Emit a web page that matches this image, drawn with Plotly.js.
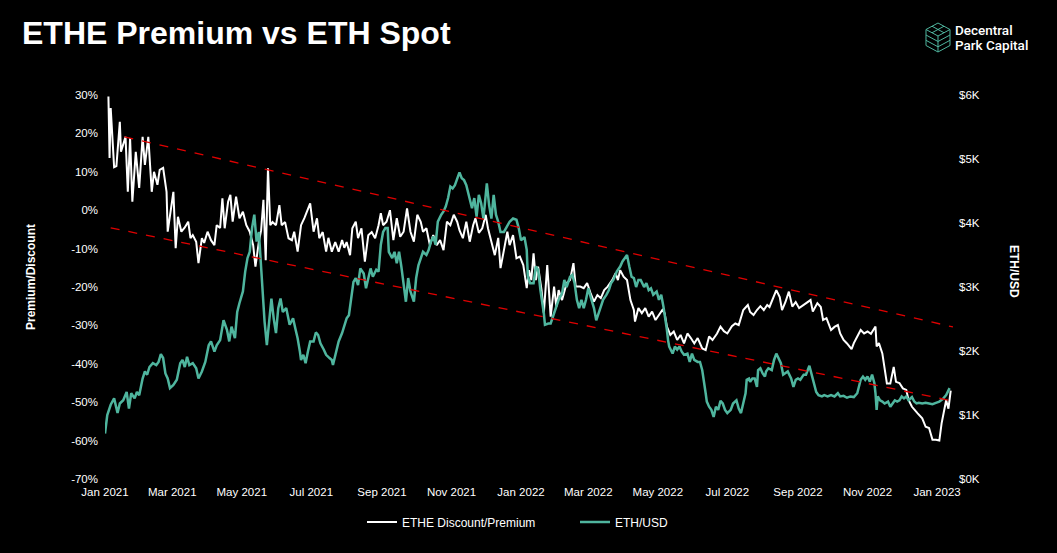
<!DOCTYPE html>
<html>
<head>
<meta charset="utf-8">
<script src="https://cdn.plot.ly/plotly-3.0.1.min.js"></script>
<style>
  html, body { margin: 0; padding: 0; background: #000; }
  #chart { width: 1057px; height: 553px; }
</style>
</head>
<body>
<div id="chart"></div>
<script>
// ETHE premium/discount (%)
const premiumDates = [
  "2021-01-04","2021-01-05","2021-01-06","2021-01-09","2021-01-11","2021-01-14","2021-01-15","2021-01-19","2021-01-21","2021-01-23",
  "2021-01-25","2021-01-28","2021-01-31","2021-02-03","2021-02-05","2021-02-08","2021-02-11","2021-02-13","2021-02-16","2021-02-18",
  "2021-02-21","2021-02-24","2021-02-25","2021-02-27","2021-03-02","2021-03-04","2021-03-06","2021-03-09","2021-03-12","2021-03-15",
  "2021-03-17","2021-03-19","2021-03-22","2021-03-24","2021-03-27","2021-03-29","2021-04-01","2021-04-04","2021-04-07","2021-04-09",
  "2021-04-12","2021-04-14","2021-04-16","2021-04-19","2021-04-21","2021-04-23","2021-04-26","2021-04-29","2021-05-02","2021-05-05",
  "2021-05-08","2021-05-11","2021-05-13","2021-05-16","2021-05-18","2021-05-20","2021-05-22","2021-05-24","2021-05-26","2021-05-28",
  "2021-05-31","2021-06-03","2021-06-05","2021-06-08","2021-06-11","2021-06-14","2021-06-16","2021-06-19","2021-06-22","2021-06-25",
  "2021-06-30","2021-07-03","2021-07-06","2021-07-08","2021-07-11","2021-07-14","2021-07-16","2021-07-19","2021-07-22","2021-07-25",
  "2021-07-28","2021-07-30","2021-08-01","2021-08-04","2021-08-06","2021-08-09","2021-08-11","2021-08-14","2021-08-17","2021-08-20",
  "2021-08-23","2021-08-26","2021-08-29","2021-08-31","2021-09-02","2021-09-05","2021-09-08","2021-09-11","2021-09-14","2021-09-17",
  "2021-09-20","2021-09-23","2021-09-26","2021-09-29","2021-10-02","2021-10-05","2021-10-07","2021-10-10","2021-10-13","2021-10-16",
  "2021-10-19","2021-10-22","2021-10-25","2021-10-28","2021-10-31","2021-11-03","2021-11-06","2021-11-08","2021-11-11","2021-11-14",
  "2021-11-17","2021-11-20","2021-11-22","2021-11-25","2021-11-28","2021-12-01","2021-12-03","2021-12-06","2021-12-09","2021-12-12",
  "2021-12-14","2021-12-17","2021-12-20","2021-12-22","2021-12-25","2021-12-28","2021-12-31","2022-01-03","2022-01-06","2022-01-08",
  "2022-01-10","2022-01-12","2022-01-14","2022-01-16","2022-01-19","2022-01-21","2022-01-24","2022-01-27","2022-01-30","2022-02-01",
  "2022-02-03","2022-02-06","2022-02-10","2022-02-13","2022-02-16","2022-02-18","2022-02-22","2022-02-25","2022-02-28","2022-03-03",
  "2022-03-06","2022-03-09","2022-03-12","2022-03-15","2022-03-18","2022-03-22","2022-03-25","2022-03-27","2022-03-29","2022-04-01",
  "2022-04-04","2022-04-07","2022-04-10","2022-04-11","2022-04-14","2022-04-17","2022-04-20","2022-04-23","2022-04-26","2022-04-29",
  "2022-05-02","2022-05-05","2022-05-07","2022-05-09","2022-05-12","2022-05-15","2022-05-18","2022-05-21","2022-05-24","2022-05-27",
  "2022-05-30","2022-06-02","2022-06-05","2022-06-09","2022-06-12","2022-06-15","2022-06-18","2022-06-22","2022-06-25","2022-06-28",
  "2022-07-01","2022-07-05","2022-07-08","2022-07-11","2022-07-15","2022-07-19","2022-07-21","2022-07-24","2022-07-27","2022-07-30",
  "2022-08-02","2022-08-05","2022-08-07","2022-08-09","2022-08-13","2022-08-16","2022-08-18","2022-08-21","2022-08-24","2022-08-27",
  "2022-08-30","2022-09-02","2022-09-06","2022-09-09","2022-09-12","2022-09-14","2022-09-18","2022-09-21","2022-09-23","2022-09-26",
  "2022-09-30","2022-10-03","2022-10-06","2022-10-08","2022-10-11","2022-10-14","2022-10-18","2022-10-20","2022-10-23","2022-10-26",
  "2022-10-29","2022-11-01","2022-11-04","2022-11-08","2022-11-09","2022-11-11","2022-11-14","2022-11-16","2022-11-18","2022-11-21",
  "2022-11-24","2022-11-26","2022-11-29","2022-12-02","2022-12-05","2022-12-07","2022-12-10","2022-12-15","2022-12-19","2022-12-22",
  "2022-12-25","2022-12-28","2022-12-31","2023-01-03","2023-01-05","2023-01-07","2023-01-09","2023-01-11","2023-01-13"
];
const premiumValues = [
  29.6, 13.6, 26.6, 11.2, 11.5, 23.0, 15.2, 19.1, 4.8, 18.8,
  2.2, 15.2, 5.8, 19.1, 11.8, 19.1, 4.8, 10.0, 6.6, 10.5,
  11.0, 4.8, -5.6, -1.2, 4.8, -9.9, -1.7, -5.6, -4.5, -3.0,
  -7.3, -6.5, -8.2, -13.8, -7.3, -8.5, -5.6, -7.8, -9.1, -3.9,
  -4.6, 3.1, -4.7, 2.2, 4.0, -3.0, 3.5, -2.1, -0.4, -3.9,
  -5.6, -9.1, -14.7, -8.2, -5.2, 2.7, -13.0, 10.9, -3.9, -3.1,
  -3.9, 1.3, -3.9, -3.1, -7.3, -7.8, -5.6, -10.8, -3.9, -2.0,
  1.8, -5.6, -2.1, -7.3, -5.7, -10.8, -7.2, -10.8, -8.3, -10.8,
  -7.8, -9.8, -8.3, -11.7, -4.7, -3.0, -7.3, -4.7, -13.4, -6.5,
  -5.7, -7.3, -3.9, -0.8, -3.9, -3.0, 0.0, -7.8, -2.1, -6.9,
  -5.6, 0.5, -5.6, -8.2, -1.2, -3.0, -5.6, -4.7, -9.1, -6.5,
  -9.1, -7.8, -10.4, -3.0, -3.9, -1.2, -3.0, -5.2, -7.3, -3.0,
  -8.2, -3.9, -2.1, -5.9, -4.7, -1.2, -4.7, -8.2, -11.7, -7.2,
  -15.1, -10.4, -5.6, -9.1, -6.5, -12.5, -12.1, -14.3, -20.3, -15.6,
  -18.2, -11.2, -18.2, -14.7, -20.8, -26.8, -14.3, -27.7, -19.9, -25.1,
  -20.8, -23.4, -19.0, -18.2, -13.8, -19.9, -19.9, -20.3, -19.0, -21.6,
  -23.8, -22.1, -22.9, -20.8, -19.9, -18.2, -16.4, -18.2, -15.6, -17.3,
  -18.2, -23.4, -26.0, -29.0, -25.5, -26.8, -25.5, -27.7, -26.4, -28.6,
  -27.3, -26.0, -26.8, -30.3, -32.5, -31.6, -33.8, -32.5, -34.7, -32.1,
  -33.3, -34.7, -33.3, -36.0, -36.4, -32.9, -33.8, -32.1, -30.3, -31.5,
  -32.1, -30.2, -29.5, -29.9, -26.0, -24.7, -26.5, -27.3, -26.0, -25.0,
  -26.0, -24.7, -25.2, -23.8, -20.8, -22.6, -26.0, -23.9, -21.2, -25.1,
  -23.9, -25.5, -24.7, -24.2, -23.4, -26.4, -24.2, -25.2, -28.6, -28.1,
  -31.2, -30.4, -29.9, -32.1, -33.8, -34.7, -36.2, -34.6, -32.9, -31.2,
  -32.1, -31.6, -32.2, -30.3, -35.5, -34.6, -37.3, -40.8, -45.1, -45.1,
  -40.8, -44.7, -45.0, -46.4, -46.8, -49.4, -51.2, -52.9, -54.2, -56.4,
  -56.7, -59.8, -59.8, -60.0, -55.5, -52.5, -49.5, -51.7, -47.0
];

// ETH/USD spot (USD)
const ethDates = [
  "2021-01-01","2021-01-03","2021-01-06","2021-01-09","2021-01-12","2021-01-14","2021-01-17","2021-01-20","2021-01-22","2021-01-24",
  "2021-01-27","2021-01-29","2021-01-31","2021-02-03","2021-02-05","2021-02-07","2021-02-09","2021-02-12","2021-02-15","2021-02-17",
  "2021-02-19","2021-02-21","2021-02-23","2021-02-25","2021-02-27","2021-03-02","2021-03-05","2021-03-08","2021-03-10","2021-03-12",
  "2021-03-14","2021-03-16","2021-03-19","2021-03-22","2021-03-24","2021-03-27","2021-03-30","2021-04-02","2021-04-04","2021-04-07",
  "2021-04-09","2021-04-12","2021-04-15","2021-04-18","2021-04-20","2021-04-22","2021-04-25","2021-04-27","2021-04-29","2021-05-02",
  "2021-05-04","2021-05-06","2021-05-08","2021-05-10","2021-05-12","2021-05-14","2021-05-16","2021-05-18","2021-05-20","2021-05-21",
  "2021-05-23","2021-05-25","2021-05-27","2021-05-29","2021-05-31","2021-06-02","2021-06-04","2021-06-06","2021-06-09","2021-06-12",
  "2021-06-15","2021-06-17","2021-06-19","2021-06-21","2021-06-22","2021-06-24","2021-06-26","2021-06-28","2021-06-30","2021-07-03",
  "2021-07-05","2021-07-07","2021-07-09","2021-07-12","2021-07-14","2021-07-17","2021-07-19","2021-07-20","2021-07-23","2021-07-25",
  "2021-07-28","2021-07-30","2021-08-01","2021-08-03","2021-08-05","2021-08-07","2021-08-09","2021-08-11","2021-08-13","2021-08-16",
  "2021-08-18","2021-08-20","2021-08-22","2021-08-24","2021-08-27","2021-08-29","2021-08-31","2021-09-02","2021-09-04","2021-09-06",
  "2021-09-07","2021-09-10","2021-09-12","2021-09-14","2021-09-16","2021-09-18","2021-09-20","2021-09-22","2021-09-24","2021-09-26",
  "2021-09-29","2021-10-01","2021-10-03","2021-10-05","2021-10-07","2021-10-10","2021-10-12","2021-10-14","2021-10-16","2021-10-18",
  "2021-10-20","2021-10-23","2021-10-25","2021-10-27","2021-10-29","2021-10-31","2021-11-02","2021-11-04","2021-11-06","2021-11-08",
  "2021-11-10","2021-11-12","2021-11-14","2021-11-17","2021-11-19","2021-11-21","2021-11-23","2021-11-25","2021-11-27","2021-11-29",
  "2021-12-01","2021-12-02","2021-12-04","2021-12-06","2021-12-08","2021-12-10","2021-12-12","2021-12-14","2021-12-17","2021-12-20",
  "2021-12-22","2021-12-25","2021-12-28","2021-12-30","2022-01-01","2022-01-04","2022-01-06","2022-01-07","2022-01-09","2022-01-12",
  "2022-01-14","2022-01-16","2022-01-18","2022-01-21","2022-01-22","2022-01-25","2022-01-27","2022-01-30","2022-02-01","2022-02-03",
  "2022-02-06","2022-02-08","2022-02-10","2022-02-13","2022-02-15","2022-02-17","2022-02-19","2022-02-21","2022-02-23","2022-02-25",
  "2022-02-27","2022-03-01","2022-03-03","2022-03-06","2022-03-08","2022-03-10","2022-03-12","2022-03-14","2022-03-17","2022-03-19",
  "2022-03-21","2022-03-23","2022-03-26","2022-03-29","2022-03-31","2022-04-02","2022-04-04","2022-04-06","2022-04-08","2022-04-10",
  "2022-04-12","2022-04-14","2022-04-16","2022-04-19","2022-04-21","2022-04-23","2022-04-25","2022-04-27","2022-04-30","2022-05-02",
  "2022-05-04","2022-05-06","2022-05-07","2022-05-09","2022-05-10","2022-05-11","2022-05-14","2022-05-16","2022-05-18","2022-05-20",
  "2022-05-22","2022-05-24","2022-05-27","2022-05-29","2022-05-31","2022-06-02","2022-06-05","2022-06-07","2022-06-09","2022-06-10",
  "2022-06-12","2022-06-13","2022-06-15","2022-06-17","2022-06-19","2022-06-21","2022-06-23","2022-06-25","2022-06-27","2022-06-29",
  "2022-07-01","2022-07-04","2022-07-06","2022-07-09","2022-07-11","2022-07-13","2022-07-15","2022-07-17","2022-07-18","2022-07-20",
  "2022-07-21","2022-07-23","2022-07-25","2022-07-27","2022-07-28","2022-07-30","2022-08-01","2022-08-03","2022-08-04","2022-08-06",
  "2022-08-09","2022-08-11","2022-08-13","2022-08-15","2022-08-17","2022-08-19","2022-08-21","2022-08-23","2022-08-26","2022-08-28",
  "2022-08-30","2022-09-01","2022-09-03","2022-09-06","2022-09-08","2022-09-10","2022-09-11","2022-09-13","2022-09-15","2022-09-17",
  "2022-09-19","2022-09-22","2022-09-24","2022-09-27","2022-09-30","2022-10-03","2022-10-06","2022-10-08","2022-10-11","2022-10-14",
  "2022-10-17","2022-10-20","2022-10-23","2022-10-25","2022-10-26","2022-10-28","2022-10-30","2022-11-01","2022-11-03","2022-11-05",
  "2022-11-07","2022-11-08","2022-11-09","2022-11-10","2022-11-12","2022-11-14","2022-11-16","2022-11-19","2022-11-21","2022-11-23",
  "2022-11-25","2022-11-27","2022-11-29","2022-12-01","2022-12-03","2022-12-05","2022-12-07","2022-12-10","2022-12-12","2022-12-14",
  "2022-12-16","2022-12-19","2022-12-22","2022-12-25","2022-12-28","2022-12-31","2023-01-03","2023-01-06","2023-01-09","2023-01-12"
];
const ethValues = [
  710, 1000, 1160, 1260, 1030, 1180, 1230, 1360, 1100, 1340,
  1260, 1360, 1310, 1570, 1680, 1630, 1750, 1810, 1780, 1830,
  1950, 1890, 1650, 1570, 1420, 1470, 1550, 1810, 1860, 1750,
  1910, 1780, 1810, 1730, 1570, 1680, 1830, 2090, 2150, 1990,
  2090, 2170, 2480, 2330, 2150, 2380, 2200, 2610, 2750, 2930,
  3240, 3450, 3550, 3920, 4130, 3710, 3860, 3240, 2770, 2460,
  2090, 2460, 2820, 2510, 2280, 2670, 2820, 2610, 2670, 2410,
  2510, 2350, 2200, 1990, 1860, 1940, 1810, 1990, 2150, 2150,
  2290, 2250, 2120, 2020, 1940, 1890, 1860, 1780, 1990, 2150,
  2280, 2410, 2510, 2560, 2820, 3080, 3140, 3030, 3290, 3210,
  2980, 3160, 3290, 3160, 3270, 3240, 3660, 3860, 3920, 3920,
  3550, 3450, 3550, 3370, 3550, 3320, 3080, 2770, 3140, 2930,
  2770, 3140, 3340, 3450, 3550, 3500, 3580, 3710, 3790, 3660,
  4020, 4130, 4180, 4260, 4390, 4570, 4540, 4590, 4700, 4790,
  4700, 4670, 4590, 4360, 4230, 4390, 4100, 4440, 4310, 4070,
  4410, 4620, 4280, 4070, 4440, 4130, 4020, 3860, 3860, 3970,
  4020, 4070, 4050, 3920, 3730, 3780, 3580, 3160, 3060, 3060,
  3320, 3270, 2950, 2590, 2410, 2430, 2430, 2590, 2690, 2800,
  2900, 3110, 3000, 3160, 3190, 3060, 2800, 2670, 2800, 2670,
  2800, 2980, 2850, 2670, 2480, 2590, 2690, 2800, 2880, 2950,
  3060, 3110, 3240, 3320, 3400, 3450, 3500, 3320, 3160, 3140,
  3000, 3110, 3110, 3000, 3060, 2950, 2980, 2880, 2930, 2800,
  2880, 2690, 2590, 2330, 2170, 2070, 1960, 2070, 2020, 2070,
  1990, 1940, 1960, 1830, 1960, 1860, 1830, 1830, 1700, 1550,
  1340, 1210, 1130, 1080, 970, 1130, 1080, 1220, 1180, 1080,
  1030, 1080, 1180, 1230, 1100, 1030, 1180, 1340, 1550, 1570,
  1520, 1570, 1570, 1440, 1700, 1730, 1650, 1600, 1680, 1730,
  1700, 1860, 1960, 1890, 1810, 1630, 1650, 1680, 1570, 1440,
  1550, 1570, 1550, 1630, 1630, 1750, 1770, 1630, 1500, 1360,
  1310, 1290, 1310, 1290, 1310, 1290, 1340, 1290, 1300, 1270,
  1290, 1280, 1340, 1470, 1550, 1600, 1550, 1600, 1520, 1630,
  1500, 1340, 1080, 1290, 1230, 1210, 1180, 1210, 1130, 1180,
  1230, 1210, 1230, 1290, 1260, 1290, 1230, 1280, 1210, 1180,
  1190, 1180, 1190, 1180, 1170, 1190, 1210, 1250, 1310, 1420
];

// dashed trend channel (premium axis)
const upperTrendDates = ["2021-01-18", "2023-01-15"];
const upperTrendValues = [19.1, -30.4];
const lowerTrendDates = ["2021-01-06", "2023-01-15"];
const lowerTrendValues = [-4.6, -49.7];

const premiumTicks = [-70, -60, -50, -40, -30, -20, -10, 0, 10, 20, 30];
const premiumTickText = ["-70%", "-60%", "-50%", "-40%", "-30%", "-20%", "-10%", "0%", "10%", "20%", "30%"];
const ethTicks = [0, 1000, 2000, 3000, 4000, 5000, 6000];
const ethTickText = ["$0K", "$1K", "$2K", "$3K", "$4K", "$5K", "$6K"];

const W = 1057;
const H = 553;
const M = { l: 105, r: 104, t: 95, b: 74 };
const plotW = W - M.l - M.r;
const plotH = H - M.t - M.b;

// pixel -> paper helpers for the decorations
function px(x) { return (x - M.l) / plotW; }
function py(y) { return (H - M.b - y) / plotH; }

const FONT = "Liberation Sans, Arial, Helvetica, sans-serif";
const TEAL = "#4fb59e";
const RED = "#e00000";

function pathFrom(points) {
  return points.map((p, i) => (i ? "L" : "M") + px(p[0]).toFixed(5) + "," + py(p[1]).toFixed(5)).join(" ");
}

function cubeShapes() {
  const cx = 938, l = 926, r = 950;
  const lines = [
    [[cx, 23], [r, 29.5], [r, 45.5], [cx, 52], [l, 45.5], [l, 29.5], [cx, 23]],
    [[l, 29.5], [cx, 36], [r, 29.5]],
    [[cx, 36], [cx, 52]],
    [[l, 35], [cx, 41.5], [r, 35]],
    [[l, 40.3], [cx, 46.8], [r, 40.3]],
    [[932, 26.25], [944, 32.75]],
    [[944, 26.25], [932, 32.75]],
  ];
  return lines.map((pts) => ({
    type: "path",
    xref: "paper",
    yref: "paper",
    path: pathFrom(pts),
    line: { color: TEAL, width: 1 },
  }));
}

const traces = [
  {
    x: premiumDates,
    y: premiumValues,
    type: "scatter",
    mode: "lines",
    name: "ETHE Discount/Premium",
    line: { color: "#ffffff", width: 2 },
    yaxis: "y",
  },
  {
    x: ethDates,
    y: ethValues,
    type: "scatter",
    mode: "lines",
    name: "ETH/USD",
    line: { color: TEAL, width: 2.5 },
    yaxis: "y2",
  },
  {
    x: upperTrendDates,
    y: upperTrendValues,
    type: "scatter",
    mode: "lines",
    showlegend: false,
    line: { color: RED, width: 1.3, dash: "dash" },
    yaxis: "y3",
  },
  {
    x: lowerTrendDates,
    y: lowerTrendValues,
    type: "scatter",
    mode: "lines",
    showlegend: false,
    line: { color: RED, width: 1.3, dash: "dash" },
    yaxis: "y3",
  },
];

const layout = {
  width: W,
  height: H,
  margin: M,
  paper_bgcolor: "#000000",
  plot_bgcolor: "#000000",
  font: { family: FONT, color: "#ffffff", size: 11.5 },
  title: {
    text: "<b>ETHE Premium vs ETH Spot</b>",
    font: { family: FONT, size: 32, color: "#ffffff" },
    xref: "container",
    yref: "container",
    x: 22 / W,
    xanchor: "left",
    y: 1 - 33 / H,
    yanchor: "middle",
  },
  showlegend: true,
  legend: {
    orientation: "h",
    x: px(362),
    xanchor: "left",
    y: py(522),
    yanchor: "middle",
    font: { family: FONT, size: 12, color: "#ffffff" },
    bgcolor: "rgba(0,0,0,0)",
    entrywidth: 168,
  },
  xaxis: {
    type: "date",
    range: ["2021-01-01", "2023-01-15"],
    tick0: "2021-01-01",
    dtick: "M2",
    tickformat: "%b %Y",
    showgrid: false,
    zeroline: false,
    showline: false,
    ticks: "",
    ticklabelstandoff: 4,
    tickfont: { family: FONT, size: 11.5, color: "#ffffff" },
  },
  yaxis: {
    range: [-70, 30],
    tickvals: premiumTicks,
    ticktext: premiumTickText,
    showgrid: false,
    zeroline: false,
    showline: false,
    ticks: "",
    ticklabelstandoff: 6,
    tickfont: { family: FONT, size: 11.5, color: "#ffffff" },
  },
  yaxis2: {
    range: [0, 6000],
    overlaying: "y",
    side: "right",
    tickvals: ethTicks,
    ticktext: ethTickText,
    showgrid: false,
    zeroline: false,
    showline: false,
    ticks: "",
    ticklabelstandoff: 5,
    tickfont: { family: FONT, size: 11.5, color: "#ffffff" },
  },
  yaxis3: {
    range: [-70, 30],
    overlaying: "y",
    visible: false,
  },
  shapes: cubeShapes(),
  annotations: [
    {
      text: "<b>Premium/Discount</b>",
      xref: "paper", yref: "paper",
      x: px(21.5), y: py(277.5),
      textangle: -90,
      showarrow: false,
      font: { family: FONT, size: 12, color: "#ffffff" },
    },
    {
      text: "<b>ETH/USD</b>",
      xref: "paper", yref: "paper",
      x: px(1023), y: py(271),
      textangle: 90,
      showarrow: false,
      font: { family: FONT, size: 12, color: "#ffffff" },
    },
    {
      text: "Decentral",
      xref: "paper", yref: "paper",
      x: px(953), xanchor: "left",
      y: py(30), yanchor: "middle",
      showarrow: false,
      font: { family: "Roboto, sans-serif", size: 13.5, color: "#ffffff", weight: 500 },
    },
    {
      text: "Park Capital",
      xref: "paper", yref: "paper",
      x: px(953), xanchor: "left",
      y: py(45), yanchor: "middle",
      showarrow: false,
      font: { family: "Roboto, sans-serif", size: 13.5, color: "#ffffff", weight: 500 },
    },
  ],
};

Plotly.newPlot("chart", traces, layout, { displayModeBar: false, responsive: false });
</script>
</body>
</html>
